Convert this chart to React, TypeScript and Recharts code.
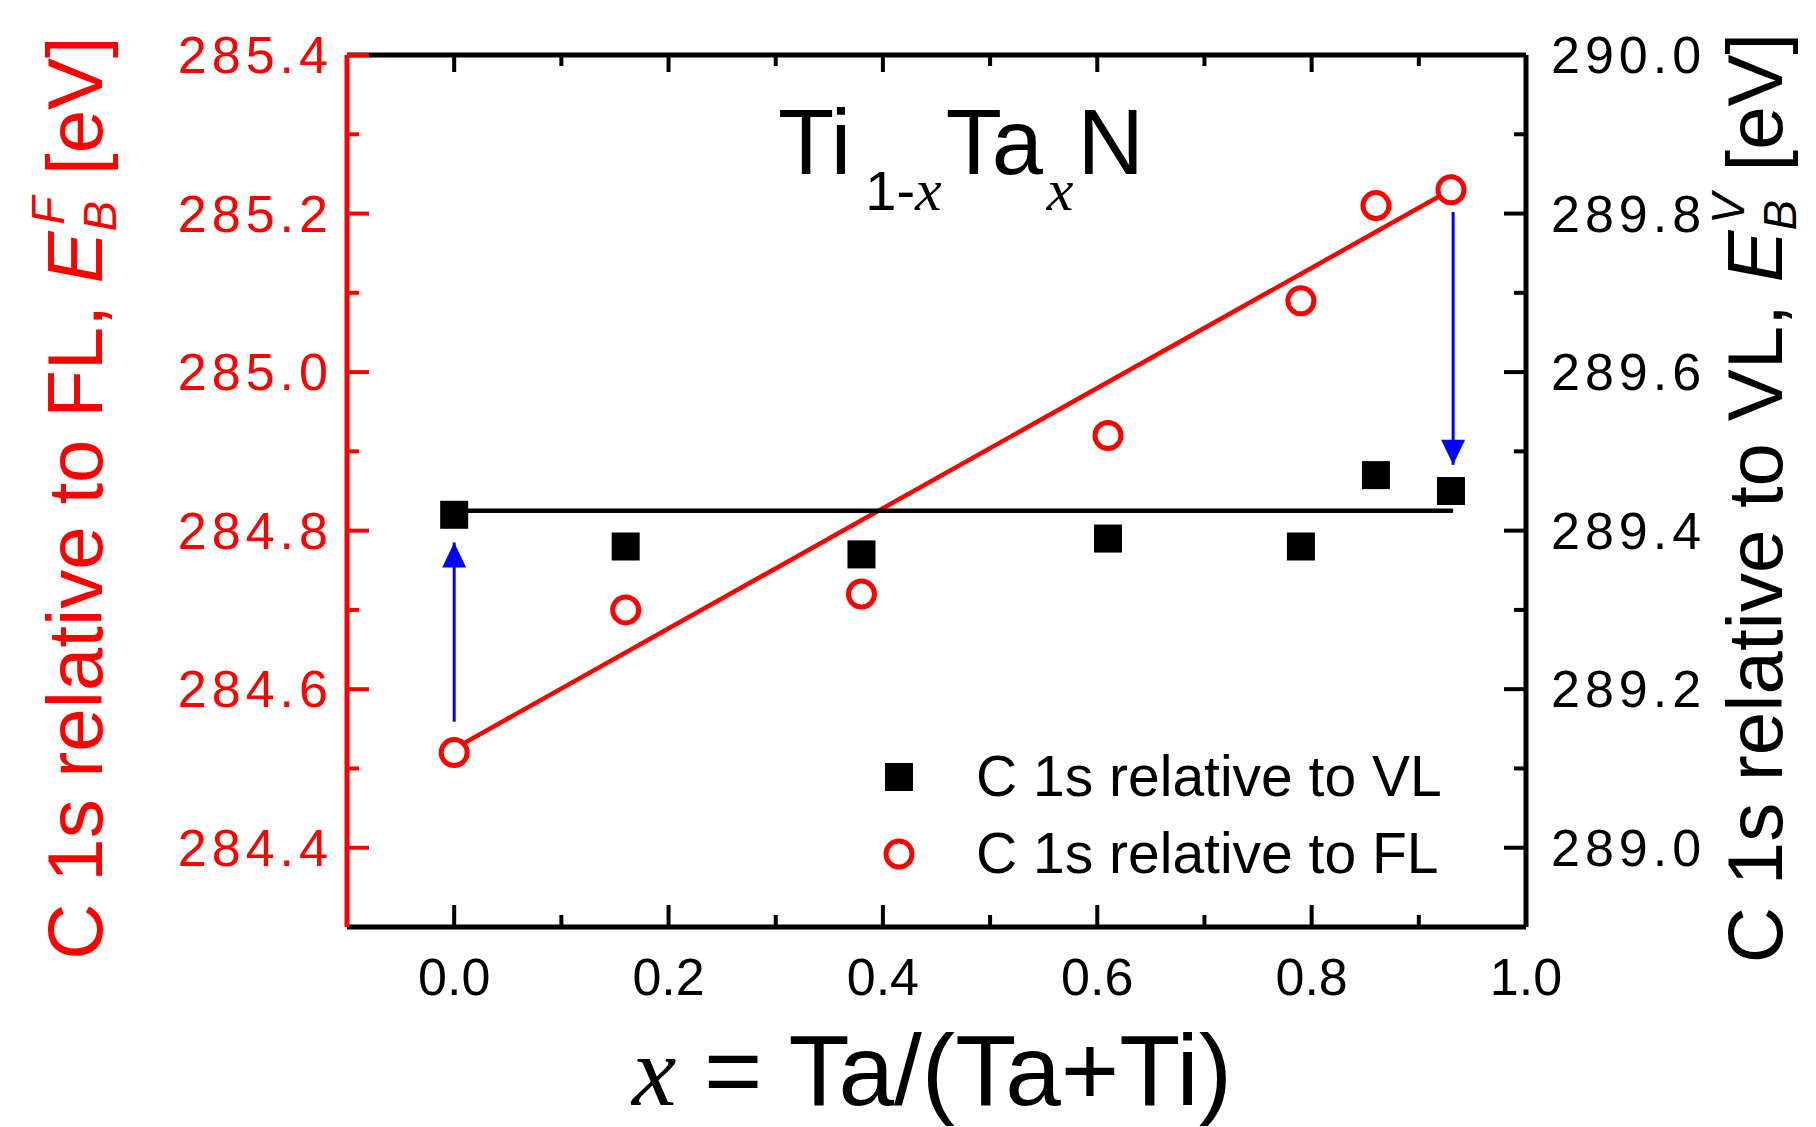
import React from 'react';
import { ComposedChart, XAxis, YAxis, Scatter, Line, Legend } from 'recharts';

const RED = '#ff0000';
const BLACK = '#000000';
const BLUE = '#0000ff';
const SANS = '"Liberation Sans", Arial, sans-serif';
const SERIF = '"Liberation Serif", "Times New Roman", serif';

// Ta fraction x = Ta/(Ta+Ti)
const xTa = [0.0, 0.16, 0.38, 0.61, 0.79, 0.86, 0.93];
// C 1s relative to vacuum level (right axis)
const c1sVL = [289.42, 289.38, 289.37, 289.39, 289.38, 289.47, 289.45];
// C 1s relative to Fermi level (left axis)
const c1sFL = [284.52, 284.70, 284.72, 284.92, 285.09, 285.21, 285.23];

// linear fit of FL points and mean of VL points
const fitX = [0.0, 0.93];
const fitFL = [284.525, 285.23];
const meanX = [0.0, 0.932];
const meanVL = [289.425, 289.425];

// blue arrows (in FL units)
const arrowUpX = [0.0, 0.0];
const arrowUpY = [284.559, 284.785];
const arrowDownX = [0.932, 0.932];
const arrowDownY = [285.202, 284.883];

const xTicks = [0, 0.2, 0.4, 0.6, 0.8, 1.0];
const xMinor = [0.1, 0.3, 0.5, 0.7, 0.9];
const flTicks = [284.4, 284.6, 284.8, 285.0, 285.2, 285.4];
const flMinor = [284.5, 284.7, 284.9, 285.1, 285.3];
const vlTicks = [289.0, 289.2, 289.4, 289.6, 289.8, 290.0];
const vlMinor = [289.1, 289.3, 289.5, 289.7, 289.9];

const X_DOMAIN: [number, number] = [-0.1, 1.0];
const FL_DOMAIN: [number, number] = [284.3, 285.4];
const VL_DOMAIN: [number, number] = [288.9, 290.0];

const PLOT_H = 872;
const MAJOR = 22;
const MINOR = 12;
const X_MARGIN = 31;
const L_MARGIN = 14;
const R_MARGIN = 25;
const FRAME = 5;
const TICK_W = 4;

const toPoints = (xs: number[], ys: number[]) => xs.map((x, i) => ({ x, y: ys[i] }));
const allTicks = (major: number[], minor: number[]) => [...major, ...minor].sort((a, b) => a - b);

const vlData = toPoints(xTa, c1sVL);
const flData = toPoints(xTa, c1sFL);
const fitData = toPoints(fitX, fitFL);
const meanData = toPoints(meanX, meanVL);
const arrowUpData = toPoints(arrowUpX, arrowUpY);
const arrowDownData = toPoints(arrowDownX, arrowDownY);

const legendItems = [
  { label: 'C 1s relative to VL', marker: 'square' },
  { label: 'C 1s relative to FL', marker: 'circle' },
];

const Square = (props: any) => {
  const { cx, cy } = props;
  return <rect x={cx - 14} y={cy - 14} width={28} height={28} fill={BLACK} />;
};

const Ring = (props: any) => {
  const { cx, cy } = props;
  return <circle cx={cx} cy={cy} r={13} fill="#fff" stroke={RED} strokeWidth={5} />;
};

const arrowHead = (up: boolean) => (props: any) => {
  const { cx, cy, index } = props;
  if (index !== 1) return <g key={`a${index}`} />;
  const s = up ? 1 : -1;
  return (
    <polygon
      key={`a${index}`}
      points={`${cx},${cy} ${cx - 12},${cy + s * 25} ${cx + 12},${cy + s * 25}`}
      fill={BLUE}
    />
  );
};

const fmt = (v: number) => v.toFixed(1);

// bottom axis: labels + inward ticks at bottom and top of the frame
const XTick = (props: any) => {
  const { x, y, payload } = props;
  const major = xTicks.includes(payload.value);
  const axisY = y - X_MARGIN;
  const topY = axisY - PLOT_H;
  return (
    <g>
      <line x1={x} x2={x} y1={axisY} y2={axisY - (major ? MAJOR : MINOR)} stroke={BLACK} strokeWidth={TICK_W} />
      <line x1={x} x2={x} y1={topY} y2={topY + (major ? 17 : 11)} stroke={BLACK} strokeWidth={TICK_W} />
      {major && (
        <text x={x} y={y} dy={37} textAnchor="middle" fontSize={52} fontFamily={SANS} fill={BLACK}>
          {fmt(payload.value)}
        </text>
      )}
    </g>
  );
};

const LeftTick = (props: any) => {
  const { x, y, payload } = props;
  const major = flTicks.includes(payload.value);
  const axisX = x + L_MARGIN;
  return (
    <g>
      <line x1={axisX} x2={axisX + (major ? MAJOR : MINOR)} y1={y} y2={y} stroke={RED} strokeWidth={TICK_W} />
      {major && (
        <text x={x} y={y} dy={18} textAnchor="end" fontSize={52} fontFamily={SANS} letterSpacing={5} fill={RED}>
          {fmt(payload.value)}
        </text>
      )}
    </g>
  );
};

const RightTick = (props: any) => {
  const { x, y, payload } = props;
  const major = vlTicks.includes(payload.value);
  const axisX = x - R_MARGIN;
  return (
    <g>
      <line x1={axisX} x2={axisX - (major ? MAJOR : MINOR)} y1={y} y2={y} stroke={BLACK} strokeWidth={TICK_W} />
      {major && (
        <text x={x} y={y} dy={18} textAnchor="start" fontSize={52} fontFamily={SANS} letterSpacing={5} fill={BLACK}>
          {fmt(payload.value)}
        </text>
      )}
    </g>
  );
};

const LeftTitle = () => (
  <text transform="translate(94, 490) rotate(-90)" textAnchor="middle" fontSize={78} fontFamily={SANS} fill={RED}>
    C 1s relative to FL,{' '}
    <tspan fontStyle="italic">E</tspan>
    <tspan fontSize={46} fontStyle="italic" dy={14}>B</tspan>
    <tspan fontSize={46} fontStyle="italic" dx={-24} dy={-52}>F</tspan>
    <tspan dy={38}> [eV]</tspan>
  </text>
);

const RightTitle = () => (
  <text transform="translate(1774, 490) rotate(-90)" textAnchor="middle" fontSize={78} fontFamily={SANS} fill={BLACK}>
    C 1s relative to VL,{' '}
    <tspan fontStyle="italic">E</tspan>
    <tspan fontSize={46} fontStyle="italic" dy={14}>B</tspan>
    <tspan fontSize={46} fontStyle="italic" dx={-24} dy={-52}>V</tspan>
    <tspan dy={38}> [eV]</tspan>
  </text>
);

const BottomTitle = () => (
  <g>
    <text x={924} y={1097} textAnchor="middle" fontSize={100} fontFamily={SANS} fill={BLACK}>
      <tspan fontFamily={SERIF} fontStyle="italic">x</tspan> = Ta/(Ta+Ti)
    </text>
    <text x={770} y={166} fontSize={92} fontFamily={SANS} fill={BLACK}>
      Ti
      <tspan fontSize={56} dx={14} dy={36}>1-</tspan>
      <tspan fontSize={60} fontFamily={SERIF} fontStyle="italic">x</tspan>
      <tspan dx={4} dy={-36}>Ta</tspan>
      <tspan fontSize={60} fontFamily={SERIF} fontStyle="italic" dx={4} dy={36}>x</tspan>
      <tspan dx={4} dy={-36}>N</tspan>
    </text>
  </g>
);

const LegendBox = () => (
  <div style={{ fontFamily: SANS, fontSize: 57, color: BLACK, whiteSpace: 'nowrap' }}>
    {legendItems.map((item) => (
      <div key={item.label} style={{ display: 'flex', alignItems: 'center', height: 77 }}>
        <svg width={40} height={40} style={{ flex: 'none' }}>
          {item.marker === 'square' ? (
            <rect x={6} y={6} width={28} height={28} fill={BLACK} />
          ) : (
            <circle cx={20} cy={20} r={13} fill="#fff" stroke={RED} strokeWidth={5} />
          )}
        </svg>
        <span style={{ marginLeft: 57, lineHeight: 1 }}>{item.label}</span>
      </div>
    ))}
  </div>
);

export default function App() {
  return (
    <div style={{ width: 1800, height: 1119, position: 'relative' }}>
      <ComposedChart width={1800} height={1119} margin={{ top: 47, right: 0, bottom: 0, left: 0 }}>
        <XAxis
          xAxisId="main"
          dataKey="x"
          type="number"
          domain={X_DOMAIN}
          ticks={allTicks(xTicks, xMinor)}
          interval={0}
          height={200}
          tickLine={false}
          tickSize={0}
          tickMargin={X_MARGIN}
          axisLine={{ stroke: BLACK, strokeWidth: FRAME }}
          tick={<XTick />}
          label={{ content: () => <BottomTitle /> }}
        />
        {/* top frame line */}
        <XAxis
          xAxisId="top"
          orientation="top"
          type="number"
          domain={X_DOMAIN}
          mirror
          tick={false}
          tickLine={false}
          axisLine={{ stroke: BLACK, strokeWidth: FRAME }}
        />
        <YAxis
          yAxisId="fl"
          orientation="left"
          type="number"
          domain={FL_DOMAIN}
          ticks={allTicks(flTicks, flMinor)}
          interval={0}
          width={339}
          tickLine={false}
          tickSize={0}
          tickMargin={L_MARGIN}
          axisLine={{ stroke: RED, strokeWidth: FRAME }}
          tick={<LeftTick />}
          label={{ content: () => <LeftTitle /> }}
        />
        <YAxis
          yAxisId="vl"
          orientation="right"
          type="number"
          domain={VL_DOMAIN}
          ticks={allTicks(vlTicks, vlMinor)}
          interval={0}
          width={282}
          tickLine={false}
          tickSize={0}
          tickMargin={R_MARGIN}
          axisLine={{ stroke: BLACK, strokeWidth: FRAME }}
          tick={<RightTick />}
          label={{ content: () => <RightTitle /> }}
        />

        {/* lines */}
        <Line xAxisId="main" yAxisId="fl" data={fitData} dataKey="y" type="linear" stroke={RED} strokeWidth={4.5} dot={false} isAnimationActive={false} />
        <Line xAxisId="main" yAxisId="vl" data={meanData} dataKey="y" type="linear" stroke={BLACK} strokeWidth={4.5} dot={false} isAnimationActive={false} />
        <Line xAxisId="main" yAxisId="fl" data={arrowUpData} dataKey="y" type="linear" stroke={BLUE} strokeWidth={3} dot={arrowHead(true)} isAnimationActive={false} />
        <Line xAxisId="main" yAxisId="fl" data={arrowDownData} dataKey="y" type="linear" stroke={BLUE} strokeWidth={3} dot={arrowHead(false)} isAnimationActive={false} />

        {/* markers */}
        <Scatter xAxisId="main" yAxisId="vl" name="C 1s relative to VL" data={vlData} dataKey="y" shape={Square} isAnimationActive={false} />
        <Scatter xAxisId="main" yAxisId="fl" name="C 1s relative to FL" data={flData} dataKey="y" shape={Ring} isAnimationActive={false} />

        <Legend
          layout="vertical"
          align="center"
          verticalAlign="middle"
          wrapperStyle={{ position: 'absolute', left: 871, top: 730, width: 560 }}
          content={() => <LegendBox />}
        />
      </ComposedChart>
    </div>
  );
}
